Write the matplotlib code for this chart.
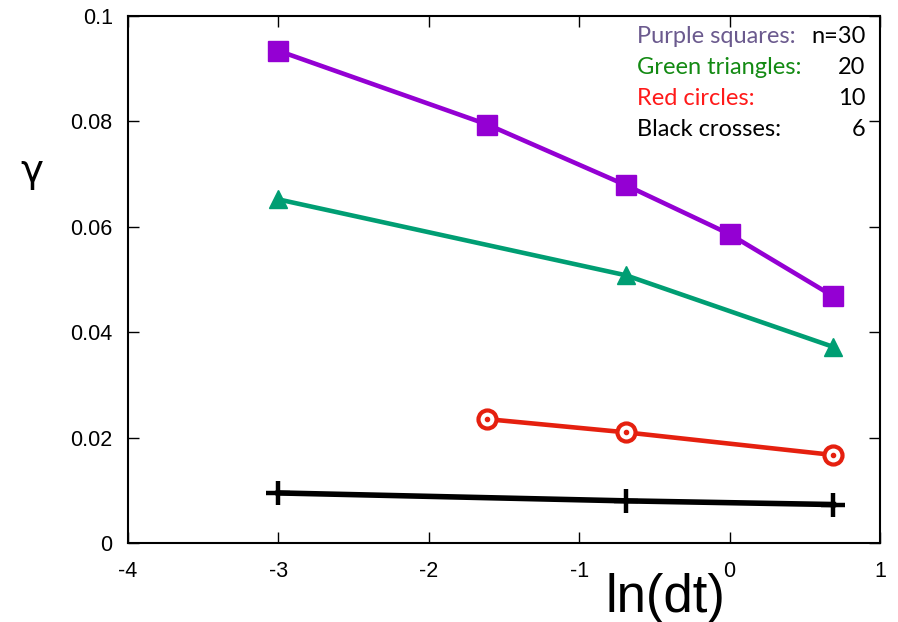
import numpy as np
import matplotlib.pyplot as plt

# ln(dt) values and gamma for each series
x_purple = [-3.0, -1.61, -0.69, 0.0, 0.69]
y_purple = [0.0934, 0.0794, 0.0679, 0.0586, 0.0468]
x_green = [-3.0, -0.69, 0.69]
y_green = [0.0652, 0.0508, 0.0372]
x_red = [-1.61, -0.69, 0.69]
y_red = [0.0235, 0.0210, 0.0167]
x_black = [-3.0, -0.69, 0.69]
y_black = [0.0095, 0.0080, 0.0073]

legend_names = ['Purple squares:', 'Green triangles:', 'Red circles:', 'Black crosses:']
legend_counts = ['n=30', '20', '10', '6']
legend_colors = ['#6b5a8e', '#138a13', '#ff1a1a', 'black']

fig = plt.figure(figsize=(8.98, 6.22), dpi=100)
ax = fig.add_axes([0.1425, 0.127, 0.8375, 0.8473])

ax.plot(x_purple, y_purple, color='#9400d3', lw=3.3, marker='s', ms=14, zorder=3)
ax.plot(x_green, y_green, color='#009e73', lw=3.3, marker='^', ms=13, zorder=3)
ax.plot(x_red, y_red, color='#e5200f', lw=3.3, marker='o', ms=13, mfc='white', mec='#e5200f', mew=3, zorder=3)
ax.plot(x_red, y_red, ls='none', color='#e5200f', marker='o', ms=3, zorder=4)
ax.plot(x_black, y_black, color='black', lw=4, marker='+', ms=17, mew=3.2, zorder=3)

ax.set_xlim(-4, 1)
ax.set_ylim(0, 0.1)
ax.set_xticks([-4, -3, -2, -1, 0, 1])
ax.set_xticklabels(['-4', '-3', '-2', '-1', '0', '1'])
ax.set_yticks([0, 0.02, 0.04, 0.06, 0.08, 0.1])
ax.set_yticklabels(['0', '0.02', '0.04', '0.06', '0.08', '0.1'])
ax.tick_params(direction='in', top=True, right=True, length=8, width=1,
               labelsize=15.5)
ax.tick_params(axis='x', pad=13)
ax.tick_params(axis='y', pad=11)
for lab in ax.get_xticklabels() + ax.get_yticklabels():
    lab.set_family('Liberation Sans')
for s in ax.spines.values():
    s.set_linewidth(1.5)

fig.text(0.7405, 0.0161, 'ln(dt)', fontsize=38, ha='center', va='baseline',
         family='Liberation Sans')
fig.text(0.036, 0.725, 'γ', fontsize=28, ha='center', va='center', family='DejaVu Sans')

for i in range(4):
    yy = 0.9309 - i * 0.0498
    fig.text(0.7095, yy, legend_names[i], color=legend_colors[i], fontsize=17,
             ha='left', va='baseline', family='Lato')
    fig.text(0.964, yy, legend_counts[i], color='black', fontsize=17,
             ha='right', va='baseline', family='Lato')

fig.savefig('out.png', dpi=100)
